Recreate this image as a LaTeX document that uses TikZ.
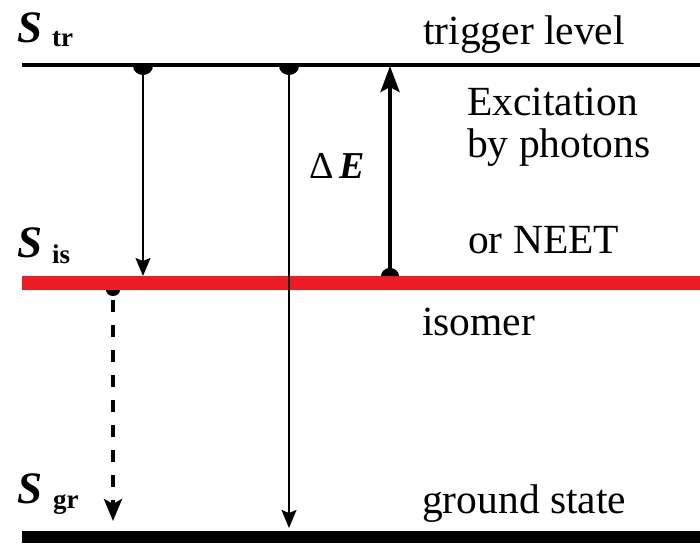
\documentclass[tikz,border=0pt]{standalone}
\usepackage{fontspec}
\setmainfont{Liberation Serif}
\usetikzlibrary{arrows.meta}
\definecolor{isored}{RGB}{237,28,36}
\tikzset{
  lbl/.style={inner sep=0pt, anchor=base west, font=\fontsize{41.5}{45}\selectfont},
  bigS/.style={inner sep=0pt, anchor=base west, font=\fontsize{45}{50}\selectfont\bfseries\itshape},
  subs/.style={inner sep=0pt, anchor=base west, font=\fontsize{27}{30}\selectfont\bfseries},
  thinarrow/.style={line width=1.6pt, -{Stealth[length=18pt,width=15pt,inset=3pt]}},
  thickarrow/.style={line width=4pt, -{Stealth[length=26pt,width=19pt,inset=5pt]}},
  dasharrow/.style={line width=4.5pt, dash pattern=on 12pt off 13pt, -{Stealth[length=22pt,width=18pt,inset=5pt]}},
}
\begin{document}
\begin{tikzpicture}[x=1pt,y=-1pt]
\useasboundingbox (0,0) rectangle (700,543);
% levels
\coordinate (trL) at (22,65);
\coordinate (trR) at (700,65);
\draw[line width=4pt] (trL) -- (trR);
\fill[isored] (22,276) rectangle (700,290);
\fill[black] (22,531) rectangle (700,543);
% dots
\fill (133,66) arc[start angle=180,end angle=360,x radius=10pt,y radius=9pt] -- cycle;
\fill (279,66) arc[start angle=180,end angle=360,x radius=10pt,y radius=9pt] -- cycle;
\fill (381,276) arc[start angle=180,end angle=0,x radius=9pt,y radius=8pt] -- cycle;
\fill (106,290) arc[start angle=180,end angle=360,x radius=7pt,y radius=6pt] -- cycle;
% arrow endpoints
\coordinate (a1s) at (143,70);
\coordinate (a1e) at (143,276);
\coordinate (a2s) at (289,70);
\coordinate (a2e) at (289,528);
\coordinate (a3s) at (390,272);
\coordinate (a3e) at (390,66);
\coordinate (a4s) at (113,300);
\coordinate (a4e) at (113,521);
\draw[thinarrow] (a1s) -- (a1e);
\draw[thinarrow] (a2s) -- (a2e);
\draw[thickarrow] (a3s) -- (a3e);
\draw[dasharrow] (a4s) -- (a4e);
% labels
\node[bigS] (Str) at (17,43) {S};
\node[subs] (str) at (52,47) {tr};
\node[bigS] (Sis) at (17,257) {S};
\node[subs] (sis) at (52,263) {is};
\node[bigS] (Sgr) at (17,503) {S};
\node[subs] (sgr) at (53,508) {gr};
\node[lbl] (trig) at (423,45) {trigger level};
\node[lbl] (exc) at (467,115) {Excitation};
\node[lbl] (byp) at (467,157) {by photons};
\node[lbl] (neet) at (468,253) {or NEET};
\node[lbl] (iso) at (422,335) {isomer};
\node[lbl] (gnd) at (422,513) {ground state};
\node[inner sep=0pt, anchor=base west, font=\fontsize{38}{42}\selectfont] (dE) at (309,178) {Δ\,\textbf{\textit{E}}};
\end{tikzpicture}
\end{document}
